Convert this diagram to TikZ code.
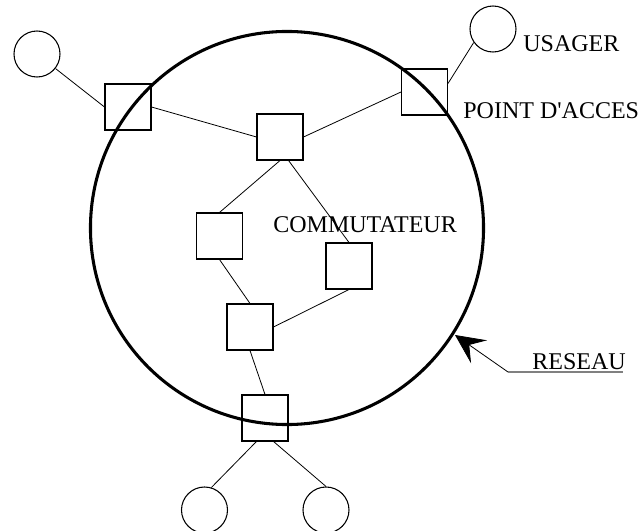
\documentclass[tikz,border=0pt]{standalone}
\usepackage{fontspec}
\setmainfont{Liberation Serif}
\usetikzlibrary{arrows.meta}
\tikzset{
  box/.style={draw, minimum size=34.5pt, inner sep=0pt, line width=.8pt},
  usr/.style={draw, circle, minimum size=34.5pt, inner sep=0pt, line width=.8pt},
  lbl/.style={anchor=base west, inner sep=0pt, font=\fontsize{18}{21}\selectfont},
}
\begin{document}
\begin{tikzpicture}[x=.75pt, y=-.75pt, line width=.6pt]
\useasboundingbox (0,0) rectangle (644,531);
% le reseau
\draw[line width=2.3pt] (287,228) circle [radius=147.4pt];
% points d'acces et commutateurs
\node[box] (a) at (128,107) {};
\node[box] (b) at (280,137) {};
\node[box] (c) at (424.5,92) {};
\node[box] (d) at (219.5,236) {};
\node[box] (e) at (349,266) {};
\node[box] (f) at (250,327) {};
\node[box] (g) at (265,418) {};
% usagers
\node[usr] (u1) at (37,54) {};
\node[usr] (u2) at (493,29) {};
\node[usr] (u3) at (204.5,510) {};
\node[usr] (u4) at (326,510) {};
\draw (u1)--(a.west) (a.east)--(b.west) (b.east)--(c.west) (c.20)--(u2.215);
\draw (b.south)--(d.north) (b.-70)--(e.north) (d.south)--(f.north) (e.south)--(f.east);
\draw (f.south)--(g.north) (g.-110)--(u3.73) (g.-70)--(u4.north);
% textes
\node[lbl] (usager) at (523,52) {USAGER};
\node[lbl] (acces) at (463,119) {POINT D\textquotesingle ACCES};
\node[lbl] (comm) at (273,233) {COMMUTATEUR};
\node[lbl] (reseau) at (532,370) {RESEAU};
\coordinate (rs) at (508,372);
\coordinate (re) at (623,372);
\coordinate (tip) at (455,335);
\draw[gray, line width=1pt] (rs)--(re);
\draw[-{Stealth[length=22pt,width=21pt,inset=9pt]}] (rs)--(tip);
\end{tikzpicture}
\end{document}
